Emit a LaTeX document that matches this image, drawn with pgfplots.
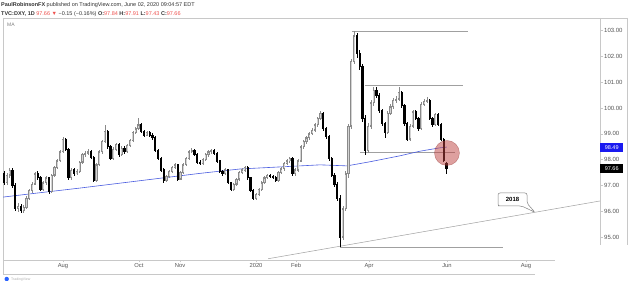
\documentclass[border=0pt]{standalone}
\usepackage{pgfplots}
\pgfplotsset{compat=1.18}
\usepackage{pgfplotstable}
\usepackage{fontspec}
\setmainfont{Liberation Sans}
\definecolor{tvred}{HTML}{EF5350}
\definecolor{hdr}{HTML}{333333}
\definecolor{tickgray}{HTML}{555555}
\definecolor{frame}{HTML}{C8C8C8}
\definecolor{maline}{HTML}{4A5DE0}
\definecolor{tagblue}{HTML}{1A1AF0}
\definecolor{upbody}{HTML}{8A8A8A}
\definecolor{upfill}{HTML}{D4D4D4}
\definecolor{lvl}{HTML}{A0A0A0}
\definecolor{tvblue}{HTML}{2962FF}

% k o h l c  (one candle per column of the chart)
\pgfplotstableread{
k o h l c
0 97.45 97.55 97.02 97.10
1 97.10 97.48 97.00 97.40
2 97.40 97.68 97.30 97.60
3 97.60 97.66 96.92 97.00
4 97.00 97.08 96.02 96.10
5 96.10 96.32 95.98 96.20
6 96.20 96.28 95.93 96.05
7 96.05 96.25 95.95 96.15
8 96.15 96.58 96.08 96.50
9 96.50 96.88 96.42 96.80
10 96.80 97.12 96.72 97.05
11 97.05 97.52 97.00 97.45
12 97.45 97.55 97.22 97.30
13 97.30 97.36 96.78 96.85
14 96.85 97.18 96.80 97.10
15 97.10 97.38 97.02 97.30
16 97.30 97.34 96.68 96.75
17 96.75 97.46 96.70 97.40
18 97.40 97.76 97.34 97.70
19 97.70 98.02 97.62 97.95
20 97.95 98.38 97.90 98.30
21 98.30 98.88 98.24 98.80
22 98.80 98.86 98.32 98.40
23 98.40 98.45 97.22 97.30
24 97.30 97.68 97.20 97.60
25 97.60 97.66 97.38 97.45
26 97.45 97.62 97.40 97.55
27 97.55 97.96 97.50 97.90
28 97.90 98.26 97.85 98.20
29 98.20 98.34 98.12 98.25
30 98.25 98.40 98.18 98.30
31 98.30 98.36 98.02 98.10
32 98.10 98.14 97.12 97.20
33 97.20 97.86 97.14 97.80
34 97.80 98.36 97.74 98.30
35 98.30 98.76 98.24 98.70
36 98.70 99.35 98.64 99.10
37 99.10 99.16 98.42 98.50
38 98.50 98.56 97.98 98.05
39 98.05 98.48 97.98 98.40
40 98.40 98.66 98.32 98.60
41 98.60 98.66 98.12 98.20
42 98.20 98.52 98.14 98.45
43 98.45 98.52 98.22 98.30
44 98.30 98.62 98.24 98.55
45 98.55 98.82 98.48 98.75
46 98.75 99.12 98.70 99.05
47 99.05 99.28 98.98 99.20
48 99.20 99.62 99.14 99.35
49 99.35 99.42 99.02 99.10
50 99.10 99.16 98.88 98.95
51 98.95 99.12 98.90 99.05
52 99.05 99.10 98.88 98.95
53 98.95 99.02 98.78 98.85
54 98.85 98.90 98.28 98.35
55 98.35 98.40 97.98 98.05
56 98.05 98.10 97.52 97.60
57 97.60 97.66 97.10 97.20
58 97.20 97.42 97.14 97.35
59 97.35 97.62 97.28 97.55
60 97.55 97.76 97.48 97.70
61 97.70 97.88 97.62 97.80
62 97.80 97.85 97.18 97.25
63 97.25 97.56 97.20 97.50
64 97.50 97.86 97.44 97.80
65 97.80 98.12 97.74 98.05
66 98.05 98.36 97.98 98.30
67 98.30 98.44 98.24 98.35
68 98.35 98.40 98.14 98.20
69 98.20 98.26 97.84 97.90
70 97.90 97.98 97.78 97.85
71 97.85 98.06 97.80 98.00
72 98.00 98.26 97.94 98.20
73 98.20 98.36 98.12 98.30
74 98.30 98.42 98.22 98.35
75 98.35 98.40 98.18 98.25
76 98.25 98.30 97.88 97.95
77 97.95 98.00 97.48 97.55
78 97.55 97.60 97.38 97.45
79 97.45 97.66 97.40 97.60
80 97.60 97.64 97.04 97.10
81 97.10 97.15 96.78 96.85
82 96.85 97.10 96.80 97.05
83 97.05 97.30 96.98 97.25
84 97.25 97.56 97.18 97.50
85 97.50 97.66 97.44 97.60
86 97.60 97.76 97.52 97.70
87 97.70 97.74 97.22 97.30
88 97.30 97.34 96.74 96.80
89 96.80 96.86 96.44 96.50
90 96.50 96.70 96.42 96.65
91 96.65 96.90 96.58 96.85
92 96.85 97.16 96.78 97.10
93 97.10 97.36 97.04 97.30
94 97.30 97.46 97.24 97.40
95 97.40 97.45 97.28 97.35
96 97.35 97.40 97.24 97.30
97 97.30 97.36 97.14 97.20
98 97.20 97.56 97.14 97.50
99 97.50 97.72 97.44 97.65
100 97.65 97.92 97.58 97.85
101 97.85 98.02 97.78 97.95
102 97.95 98.12 97.88 98.05
103 98.05 98.10 97.38 97.45
104 97.45 97.66 97.38 97.60
105 97.60 98.02 97.54 97.95
106 97.95 98.56 97.90 98.50
107 98.50 98.76 98.42 98.70
108 98.70 98.92 98.62 98.85
109 98.85 99.06 98.78 99.00
110 99.00 99.22 98.94 99.15
111 99.15 99.42 99.08 99.35
112 99.35 99.66 99.28 99.60
113 99.60 99.88 99.52 99.80
114 99.80 99.86 99.12 99.20
115 99.20 99.28 98.82 98.90
116 98.90 98.96 97.96 98.05
117 98.05 98.12 97.32 97.40
118 97.40 97.50 96.95 97.05
119 97.05 97.12 96.40 96.50
120 96.50 96.62 94.62 95.00
121 95.00 96.20 94.90 96.10
122 96.10 97.55 96.00 97.45
123 97.45 99.40 97.30 99.30
124 99.30 101.90 99.20 101.80
125 101.80 102.99 101.70 102.80
126 102.80 102.92 101.95 102.10
127 102.10 102.25 101.48 101.60
128 101.60 101.70 99.45 99.60
129 99.60 99.72 98.20 98.35
130 98.35 99.42 98.25 99.30
131 99.30 100.30 99.20 100.20
132 100.20 100.82 100.10 100.70
133 100.70 100.80 100.40 100.50
134 100.50 100.58 99.82 99.90
135 99.90 99.96 99.32 99.40
136 99.40 99.48 98.84 99.05
137 99.05 99.88 98.98 99.80
138 99.80 100.14 99.72 100.05
139 100.05 100.38 99.96 100.30
140 100.30 100.46 100.20 100.35
141 100.35 100.82 100.28 100.60
142 100.60 100.66 100.02 100.10
143 100.10 100.16 99.32 99.40
144 99.40 99.46 98.72 98.80
145 98.80 99.38 98.74 99.30
146 99.30 99.94 99.22 99.85
147 99.85 99.92 99.52 99.60
148 99.60 99.66 99.12 99.20
149 99.20 100.22 99.14 100.15
150 100.15 100.34 100.08 100.25
151 100.25 100.43 100.18 100.30
152 100.30 100.36 99.52 99.60
153 99.60 99.66 99.28 99.35
154 99.35 99.82 99.30 99.75
155 99.75 99.82 99.30 99.35
156 99.35 99.42 98.72 98.80
157 98.80 98.86 97.90 97.95
158 97.84 97.91 97.43 97.66
}\candles

\pgfplotsset{
  cndl/.style n args={2}{draw=none, mark=none, forget plot,
    error bars/.cd, y dir=both, y explicit, error mark=none,
    error bar style={line width=#1, draw=#2}},
  lvlline/.style={lvl, line width=0.5pt, forget plot},
}

\begin{document}
\begin{tikzpicture}[x=1pt,y=1pt]
\path[use as bounding box] (0,0) rectangle (640,281);
\fill[white] (0,0) rectangle (640,281);

% frame of the chart pane
\draw[frame, line width=0.5pt] (3,263) -- (627,263);
\draw[frame, line width=0.5pt] (3,263) -- (3,7);
\draw[frame, line width=0.5pt] (3,21) -- (555,21);
\draw[frame, line width=0.5pt] (3,7) -- (535,7);
\draw[frame, line width=0.5pt] (600,263) -- (600,36);
\draw[frame, line width=0.5pt] (627,263) -- (627,36);

\begin{axis}[
  at={(3pt,21pt)}, anchor=south west, scale only axis,
  width=597pt, height=242pt,
  xmin=-0.357, xmax=212.857, ymin=94.112, ymax=103.492,
  axis line style={draw=none},
  xtick={21.07,48.2,62.9,90.0,104.3,130.4,158.2,186.4},
  xticklabels={Aug,Oct,Nov,2020,Feb,Apr,Jun,Aug},
  ytick={95,96,...,103},
  xtick pos=lower, ytick pos=upper, yticklabel pos=upper,
  tick align=outside, major tick length=2.5pt,
  tick style={frame, line width=0.4pt},
  yticklabel style={font=\fontsize{6}{7}\selectfont, text=tickgray, anchor=west, inner sep=0pt, xshift=1.5pt},
  xticklabel style={font=\fontsize{5.8}{7}\selectfont, text=tickgray, anchor=north, inner sep=0pt, yshift=-1pt},
  /pgf/number format/fixed, /pgf/number format/fixed zerofill,
  /pgf/number format/precision=2, /pgf/number format/assume math mode=true,
]
% horizontal levels and 2018 trend line
\addplot[lvlline] coordinates {(124.3,102.99) (165.7,102.99)};
\addplot[lvlline] coordinates {(128.9,100.90) (163.9,100.90)};
\addplot[lvlline] coordinates {(127.1,98.27) (161.1,98.27)};
\addplot[lvlline] coordinates {(120.0,94.62) (178.2,94.62)};
\addplot[lvlline] coordinates {(94.3,94.16) (212.86,96.40)};

% moving average
\addplot[maline, line width=0.6pt, forget plot] coordinates {
(-0.36,96.55) (12.86,96.72) (27.1,96.90) (41.4,97.09) (55.7,97.28) (70.0,97.47)
(84.3,97.64) (98.6,97.72) (112.9,97.80) (122.5,97.76) (130.7,97.92) (141.4,98.15)
(148.6,98.33) (155.7,98.46) (158.2,98.49)};

% wicks
\addplot[cndl={0.55pt}{upbody}] table[x=k,
  y expr={\thisrow{c}>=\thisrow{o} ? (\thisrow{h}+\thisrow{l})/2 : nan},
  y error expr={(\thisrow{h}-\thisrow{l})/2}] {\candles};
\addplot[cndl={0.55pt}{black}] table[x=k,
  y expr={\thisrow{c}<\thisrow{o} ? (\thisrow{h}+\thisrow{l})/2 : nan},
  y error expr={(\thisrow{h}-\thisrow{l})/2}] {\candles};
% bodies
\addplot[cndl={2.2pt}{upbody}] table[x=k,
  y expr={\thisrow{c}>=\thisrow{o} ? (\thisrow{o}+\thisrow{c})/2 : nan},
  y error expr={abs(\thisrow{c}-\thisrow{o})/2+0.02}] {\candles};
\addplot[cndl={0.9pt}{upfill}] table[x=k,
  y expr={\thisrow{c}>=\thisrow{o} ? (\thisrow{o}+\thisrow{c})/2 : nan},
  y error expr={max(abs(\thisrow{c}-\thisrow{o})/2-0.03,0)}] {\candles};
\addplot[cndl={2.2pt}{black}] table[x=k,
  y expr={\thisrow{c}<\thisrow{o} ? (\thisrow{o}+\thisrow{c})/2 : nan},
  y error expr={abs(\thisrow{c}-\thisrow{o})/2+0.02}] {\candles};

% highlight circle
\addplot[only marks, mark=*, mark size=12.5pt, forget plot,
  mark options={fill=tvred!80!black, draw=tvred!60!black, fill opacity=0.5, draw opacity=0.5}]
  coordinates {(158.2,98.26)};
\end{axis}

% header
\node[anchor=west, inner sep=0pt, text=hdr, font=\fontsize{5.5}{6.6}\selectfont] at (1,276)
  {\textbf{PaulRobinsonFX} published on TradingView.com, June 02, 2020 09:04:57 EDT};
\node[anchor=west, inner sep=0pt, text=hdr, font=\fontsize{5.5}{6.6}\selectfont] at (1,267)
  {\textbf{TVC:DXY, 1D} \textcolor{tvred}{97.66 ▼} −0.15 (−0.16\%) \textbf{O:}\textcolor{tvred}{97.84} \textbf{H:}\textcolor{tvred}{97.91} \textbf{L:}\textcolor{tvred}{97.43} \textbf{C:}\textcolor{tvred}{97.66}};
\node[anchor=west, inner sep=0pt, text=gray, font=\fontsize{5}{6}\selectfont] at (7,256) {MA};

% price tags
\node[anchor=west, fill=tagblue, text=white, inner sep=0pt, minimum width=23pt, minimum height=9pt,
  font=\fontsize{5.5}{6}\selectfont] at (600,133.5) {98.49};
\node[anchor=west, fill=black, text=white, inner sep=0pt, minimum width=23pt, minimum height=9pt,
  font=\fontsize{5.5}{6}\selectfont] at (600,112) {97.66};

% 2018 callout
\draw[gray, fill=white, line width=0.5pt, rounded corners=2pt]
  (500,75) -- (521.7,75) -- (535,68.7) -- (527,77.7) -- (527,88) -- (498,88) -- (498,75) -- cycle;
\node[font=\bfseries\fontsize{6}{7}\selectfont] at (512.5,81.5) {2018};

% logo
\fill[tvblue] (6.7,2) circle (2.2);
\node[anchor=west, inner sep=0pt, text=gray!60, font=\fontsize{3.5}{4}\selectfont] at (11,1.5) {TradingView};
\end{tikzpicture}
\end{document}
